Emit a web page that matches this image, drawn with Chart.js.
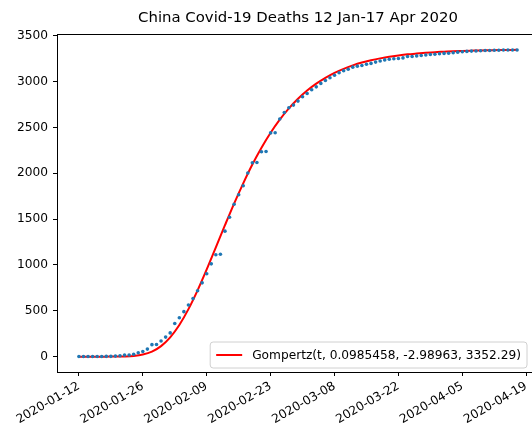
<!DOCTYPE html>
<html>
<head>
<meta charset="utf-8">
<script src="https://cdn.jsdelivr.net/npm/chart.js@4"></script>
<style>
  html, body { margin: 0; padding: 0; background: #fff; overflow: hidden; }
  #wrap { width: 560px; height: 424px; }
</style>
</head>
<body>
<div id="wrap"><canvas id="chart" width="560" height="424"></canvas></div>
<script>
// cumulative deaths, one value per day from 2020-01-12 (day 0) to 2020-04-17 (day 96)
const deaths = [
  1, 1, 1, 2, 2, 2, 3, 3, 6, 9,
  17, 18, 26, 42, 56, 82, 131, 133, 171, 213,
  259, 361, 425, 491, 563, 633, 718, 805, 905, 1012, 1112, 1117, 1369, 1521, 1663,
  1766, 1864, 2003, 2116, 2118, 2236, 2238, 2441, 2443, 2593, 2663, 2715, 2744, 2788,
  2835, 2870, 2912, 2943, 2981, 3013, 3042, 3070, 3097, 3119, 3136, 3158, 3169, 3176,
  3189, 3199, 3213, 3226, 3237, 3245, 3249, 3253, 3259, 3274, 3274, 3281, 3285, 3291,
  3296, 3299, 3304,
  3308, 3309, 3316, 3322, 3326, 3330, 3333, 3335, 3337, 3339, 3340, 3343, 3343, 3345,
  3345, 3346, 3346
];

// fitted curve, every second day
const fitDays = [0, 2, 4, 6, 8, 10, 12, 14, 16, 18, 20, 22, 24, 26, 28, 30, 32, 34, 36, 38,
  40, 42, 44, 46, 48, 50, 52, 54, 56, 58, 60, 62, 64, 66, 68, 70, 72, 74, 76, 78, 80, 82,
  84, 86, 88, 90, 92, 94, 96];
const fitValues = [0, 0, 0, 0.1, 0.4, 2, 7.6, 22.5, 55, 115, 210, 345, 518, 723, 951, 1192,
  1434, 1670, 1891, 2096, 2279, 2442, 2585, 2708, 2813, 2903, 2978, 3042, 3096, 3140, 3177,
  3208, 3233, 3254, 3272, 3286, 3298, 3307, 3315, 3322, 3327, 3332, 3335, 3338, 3341, 3343,
  3345, 3346, 3347];

const fitLabel = 'Gompertz(t, 0.0985458, -2.98963, 3352.29)';
const titleText = 'China Covid-19 Deaths 12 Jan-17 Apr 2020';

const xTickDays = [0, 14, 28, 42, 56, 70, 84, 98];
const xTickLabels = ['2020-01-12', '2020-01-26', '2020-02-09', '2020-02-23',
  '2020-03-08', '2020-03-22', '2020-04-05', '2020-04-19'];
const yTicks = [0, 500, 1000, 1500, 2000, 2500, 3000, 3500];

const FONT = '"DejaVu Sans", sans-serif';

// frame round the plot area, like matplotlib spines
const frame = {
  id: 'frame',
  afterDatasetsDraw(chart) {
    const { ctx, chartArea: a } = chart;
    ctx.save();
    ctx.strokeStyle = '#000';
    ctx.lineWidth = 1;
    ctx.strokeRect(Math.round(a.left) + 0.5, Math.round(a.top) + 0.5,
      Math.round(a.right - a.left), Math.round(a.bottom - a.top));
    ctx.restore();
  }
};

// legend box drawn inside the plot, lower right
const insideLegend = {
  id: 'insideLegend',
  afterDraw(chart) {
    const ds = chart.data.datasets[1];
    const { ctx, chartArea: a } = chart;
    ctx.save();
    ctx.font = '12.2px ' + FONT;
    const tw = ctx.measureText(ds.label).width;
    const w = tw + 48, h = 26;
    const right = a.right - 12, bottom = a.bottom - 4;
    const left = right - w, top = bottom - h;
    const r = 3;
    ctx.beginPath();
    ctx.moveTo(left + r, top);
    ctx.arcTo(right, top, right, bottom, r);
    ctx.arcTo(right, bottom, left, bottom, r);
    ctx.arcTo(left, bottom, left, top, r);
    ctx.arcTo(left, top, right, top, r);
    ctx.closePath();
    ctx.fillStyle = 'rgba(255,255,255,0.85)';
    ctx.fill();
    ctx.strokeStyle = '#d0d0d0';
    ctx.lineWidth = 1;
    ctx.stroke();
    const mid = top + h / 2;
    ctx.beginPath();
    ctx.moveTo(left + 6, mid);
    ctx.lineTo(left + 32, mid);
    ctx.strokeStyle = ds.borderColor;
    ctx.lineWidth = 2;
    ctx.stroke();
    ctx.fillStyle = '#000';
    ctx.textBaseline = 'middle';
    ctx.fillText(ds.label, left + 42, mid + 1);
    ctx.restore();
  }
};

const ctx = document.getElementById('chart').getContext('2d');
new Chart(ctx, {
  type: 'line',
  data: {
    datasets: [{
      label: 'data',
      data: deaths.map((v, i) => ({ x: i, y: v })),
      showLine: false,
      pointRadius: 1.8,
      pointBorderWidth: 0,
      pointBackgroundColor: '#1f77b4',
      borderColor: '#1f77b4'
    }, {
      label: fitLabel,
      data: fitDays.map((d, i) => ({ x: d, y: fitValues[i] })),
      borderColor: '#ff0000',
      borderWidth: 2,
      pointRadius: 0,
      cubicInterpolationMode: 'monotone',
      fill: false
    }]
  },
  options: {
    responsive: false,
    animation: false,
    devicePixelRatio: 1,
    layout: { padding: { left: 0, right: 21, top: 0, bottom: 0 } },
    plugins: {
      legend: { display: false },
      tooltip: { enabled: false },
      title: {
        display: true,
        fullSize: false,
        text: titleText,
        color: '#000',
        font: { family: FONT, size: 14.9, weight: 'normal', lineHeight: 1.2 },
        padding: { top: 9, bottom: 7.1 }
      }
    },
    scales: {
      x: {
        type: 'linear',
        min: -4.8,
        max: 100.8,
        border: { display: false },
        grid: { display: true, drawOnChartArea: false, drawTicks: true, tickLength: 4, color: '#000' },
        ticks: {
          autoSkip: false,
          minRotation: 30,
          maxRotation: 30,
          padding: 3,
          color: '#000',
          font: { family: FONT, size: 12.2 },
          callback: (v, i) => xTickLabels[i]
        },
        afterBuildTicks: s => { s.ticks = xTickDays.map(v => ({ value: v })); },
        afterFit: s => { s.height = 52; s.paddingLeft = 0; s.paddingRight = 0; }
      },
      y: {
        min: -167.6,
        max: 3520,
        border: { display: false },
        grid: { display: true, drawOnChartArea: false, drawTicks: true, tickLength: 4, color: '#000' },
        ticks: {
          padding: 5,
          color: '#000',
          font: { family: FONT, size: 12.2 },
          callback: (v, i) => String(yTicks[i])
        },
        afterBuildTicks: s => { s.ticks = yTicks.map(v => ({ value: v })); },
        afterFit: s => { s.width = 57; }
      }
    }
  },
  plugins: [frame, insideLegend]
});
</script>
</body>
</html>
